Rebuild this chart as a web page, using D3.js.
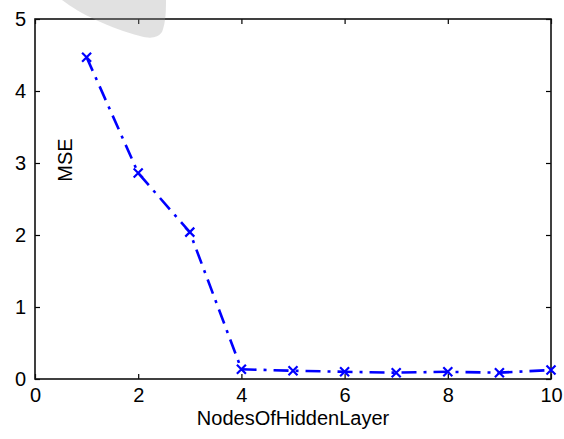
<!DOCTYPE html>
<html>
<head>
<meta charset="utf-8">
<script src="https://cdn.jsdelivr.net/npm/d3@7"></script>
<style>
html,body{margin:0;padding:0;background:#fff;}
svg{display:block;}
text{font-family:"Liberation Sans","DejaVu Sans",sans-serif;fill:#000;}
</style>
</head>
<body>
<svg id="chart" width="564" height="439"></svg>
<script>
const nodes = [1, 2, 3, 4, 5, 6, 7, 8, 9, 10];
const mse = [4.47, 2.86, 2.04, 0.135, 0.115, 0.10, 0.088, 0.10, 0.088, 0.125];
const xTicks = [0, 2, 4, 6, 8, 10];
const yTicks = [0, 1, 2, 3, 4, 5];
const xLabel = "NodesOfHiddenLayer";
const yLabel = "MSE";

(function () {
  const W = 564, H = 439;
  const m = {left: 35, right: 13, top: 19, bottom: 60};
  const svg = d3.select("#chart");
  const x = d3.scaleLinear().domain([0, 10]).range([m.left, W - m.right]);
  const y = d3.scaleLinear().domain([0, 5]).range([H - m.bottom, m.top]);
  const x0 = x.range()[0], x1 = x.range()[1], y0 = y.range()[0], y1 = y.range()[1];

  const tl = 5;
  const fs = 20;
  const gBottom = svg.append("g").attr("transform", `translate(0,${y0})`)
    .call(d3.axisBottom(x).tickValues(xTicks).tickFormat(d3.format("d")).tickSize(-tl).tickPadding(9));
  const gLeft = svg.append("g").attr("transform", `translate(${x0},0)`)
    .call(d3.axisLeft(y).tickValues(yTicks).tickFormat(d3.format("d")).tickSize(-tl).tickPadding(9));
  const gTop = svg.append("g").attr("transform", `translate(0,${y1})`)
    .call(d3.axisTop(x).tickValues(xTicks).tickSize(-tl).tickFormat(""));
  const gRight = svg.append("g").attr("transform", `translate(${x1},0)`)
    .call(d3.axisRight(y).tickValues(yTicks).tickSize(-tl).tickFormat(""));
  [gBottom, gLeft, gTop, gRight].forEach(g => {
    g.select(".domain").remove();
    g.selectAll(".tick line").attr("stroke", "#000").attr("stroke-width", 1.2);
    g.selectAll(".tick text").attr("font-size", fs)
      .attr("font-family", "Liberation Sans, DejaVu Sans, sans-serif").attr("fill", "#000");
  });

  svg.append("rect").attr("x", x0).attr("y", y1).attr("width", x1 - x0).attr("height", y0 - y1)
    .attr("fill", "none").attr("stroke", "#111").attr("stroke-width", 1.6);

  const line = d3.line().x((d, i) => x(nodes[i])).y(d => y(d));
  svg.append("path").datum(mse).attr("d", line)
    .attr("fill", "none").attr("stroke", "#0000ff").attr("stroke-width", 2.6)
    .attr("stroke-dasharray", "15,7,3,7");

  const ms = 4.5;
  svg.append("g").selectAll("path").data(mse).join("path")
    .attr("d", (d, i) => {
      const cx = x(nodes[i]), cy = y(d);
      return `M${cx - ms},${cy - ms}L${cx + ms},${cy + ms}M${cx - ms},${cy + ms}L${cx + ms},${cy - ms}`;
    })
    .attr("stroke", "#0000ff").attr("stroke-width", 2.2).attr("fill", "none");

  svg.append("text").attr("x", (x0 + x1) / 2).attr("y", 425).attr("text-anchor", "middle")
    .attr("font-size", fs).text(xLabel);
  svg.append("text").attr("transform", "translate(72,160) rotate(-90)").attr("text-anchor", "middle")
    .attr("font-size", fs).text(yLabel);

  svg.append("path")
    .attr("d", "M62,0 C80,14 110,28 140,36 C150,39 158,38 162,32 C166,22 166,10 166,0 Z")
    .attr("fill", "#9a9a9a").attr("opacity", 0.3);
})();
</script>
</body>
</html>
